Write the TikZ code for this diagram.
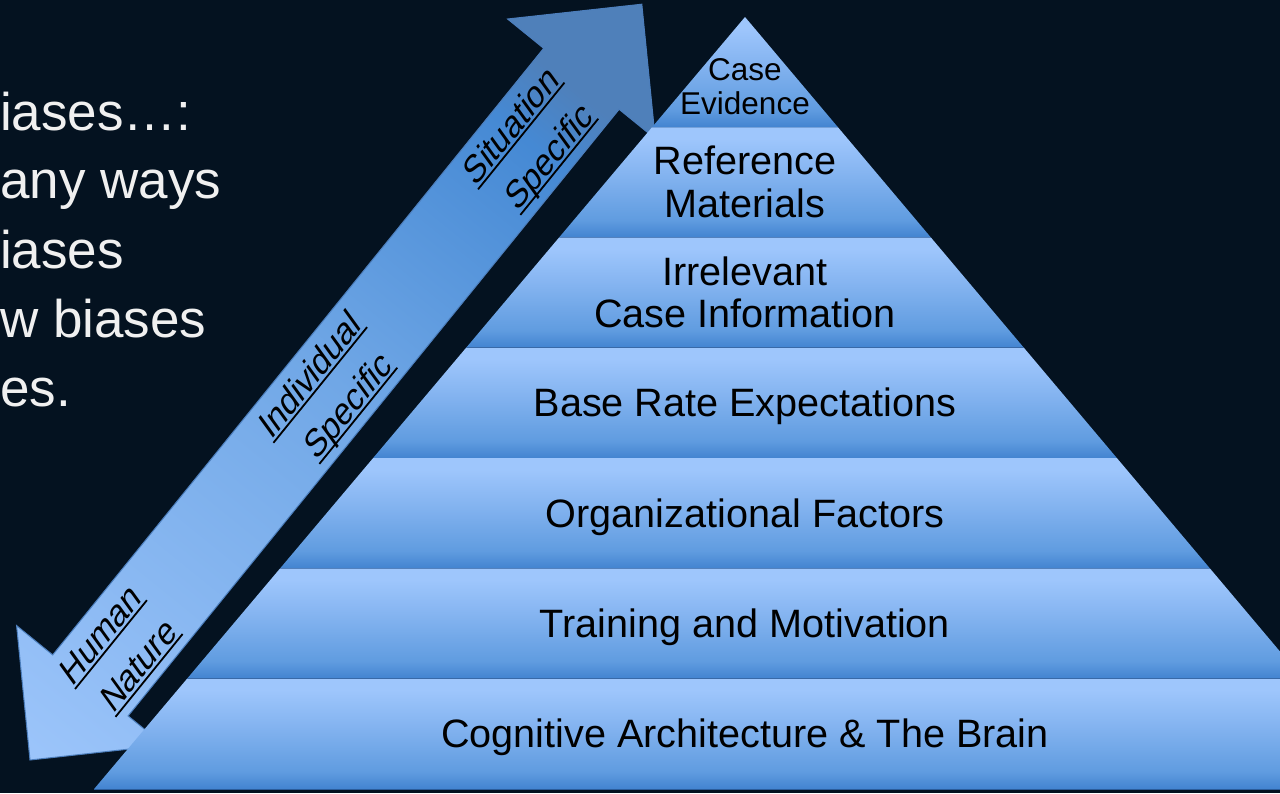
\documentclass[tikz,border=0pt]{standalone}
\usepackage{fontspec}
\setmainfont{Liberation Sans}
\newfontfamily\slantfont[FakeSlant=0.27]{Liberation Sans}
\definecolor{bg}{RGB}{4,18,32}
\definecolor{lefttxt}{RGB}{240,240,240}
\definecolor{layTop}{HTML}{9EC6FC}
\definecolor{layMid}{HTML}{86B5F1}
\definecolor{layLow}{HTML}{609CE0}
\definecolor{layBot}{HTML}{4283D0}
\definecolor{layedge}{HTML}{2B5C9B}
\definecolor{aLight}{HTML}{9BC4FA}
\definecolor{aMid}{HTML}{70A7E6}
\definecolor{aDark}{HTML}{4589D4}
\definecolor{aHead}{HTML}{4F80BA}
\definecolor{arrowedge}{HTML}{4C7EBC}
\pgfdeclareverticalshading{layersh}{100bp}{color(0bp)=(layBot); color(25bp)=(layBot); color(33bp)=(layLow); color(55bp)=(layMid); color(70bp)=(layTop); color(100bp)=(layTop)}
\pgfdeclareverticalshading{arrowsh}{100bp}{color(0bp)=(aLight); color(16bp)=(aLight); color(50bp)=(aMid); color(72bp)=(aDark); color(77bp)=(aHead); color(100bp)=(aHead)}
\newcommand\ulx[1]{\setbox0=\hbox{#1}\rlap{\rule[-4pt]{\dimexpr\wd0+3pt\relax}{1.8pt}}\box0}
\begin{document}
\begin{tikzpicture}[x=1pt,y=-1pt,
  laytext/.style={font=\fontsize{39.6}{42.5}\selectfont, text=black, inner sep=0pt},
  armlabel/.style={font=\slantfont\fontsize{34.5}{49}\selectfont, align=center, rotate=51, inner sep=0pt, text=black},
  lefttext/.style={font=\fontsize{53}{62}\selectfont, text=lefttxt, anchor=base west, inner sep=0pt}]
\useasboundingbox (0,0) rectangle (1280,793);
\fill[bg] (0,0) rectangle (1280,793);
% left text
\node[lefttext] (t1) at (0,130) {iases…:};
\node[lefttext] (t2) at (0,198) {any ways};
\node[lefttext] (t3) at (0,268) {iases};
\node[lefttext] (t4) at (0,337) {w biases};
\node[lefttext] (t5) at (0,406) {es.};
% double arrow
\shadedraw[shading=arrowsh, shading angle=-39, draw=arrowedge, line width=1pt, line join=miter]
 (30,760) -- (16.6,625.6) -- (52.7,654.9) -- (543.7,48.3) -- (507.6,19) -- (641.8,4.2)
 -- (655.2,138.6) -- (619.1,109.3) -- (128.1,715.9) -- (164.2,745.2) -- cycle;
\node[armlabel] (lab1) at (530,145) {\ulx{Situation}\\\ulx{Specific}};
\node[armlabel] (lab2) at (329,394) {\ulx{Individual}\\\ulx{Specific}};
\node[armlabel] (lab3) at (119,653) {\ulx{Human}\\\ulx{Nature}};
% pyramid
\foreach \k in {0,...,6} {
  \pgfmathsetmacro\ya{17+110.3*\k}
  \pgfmathsetmacro\yb{17+110.3*(\k+1)}
  \pgfmathsetmacro\wa{93*\k}
  \pgfmathsetmacro\wb{93*(\k+1)}
  \shade[shading=layersh] (745-\wa,\ya) -- (745+\wa,\ya) -- (745+\wb,\yb) -- (745-\wb,\yb) -- cycle;
  \draw[layedge, line width=1.2pt] (745-\wb,\yb) -- (745+\wb,\yb);
}
\node[laytext, align=center, font=\fontsize{31.5}{34}\selectfont] (L1) at (745,86.7) {Case\\Evidence};
\node[laytext, align=center] (L2) at (745,182) {Reference\\Materials};
\node[laytext, align=center] (L3) at (745,292.5) {Irrelevant\\Case Information};
\node[laytext, anchor=base] (L4) at (745,416.9) {Base Rate Expectations};
\node[laytext, anchor=base] (L5) at (745,527.2) {Organizational Factors};
\node[laytext, anchor=base] (L6) at (745,637.4) {Training and Motivation};
\node[laytext, anchor=base] (L7) at (745,747.7) {Cognitive Architecture \& The Brain};
\end{tikzpicture}
\end{document}
